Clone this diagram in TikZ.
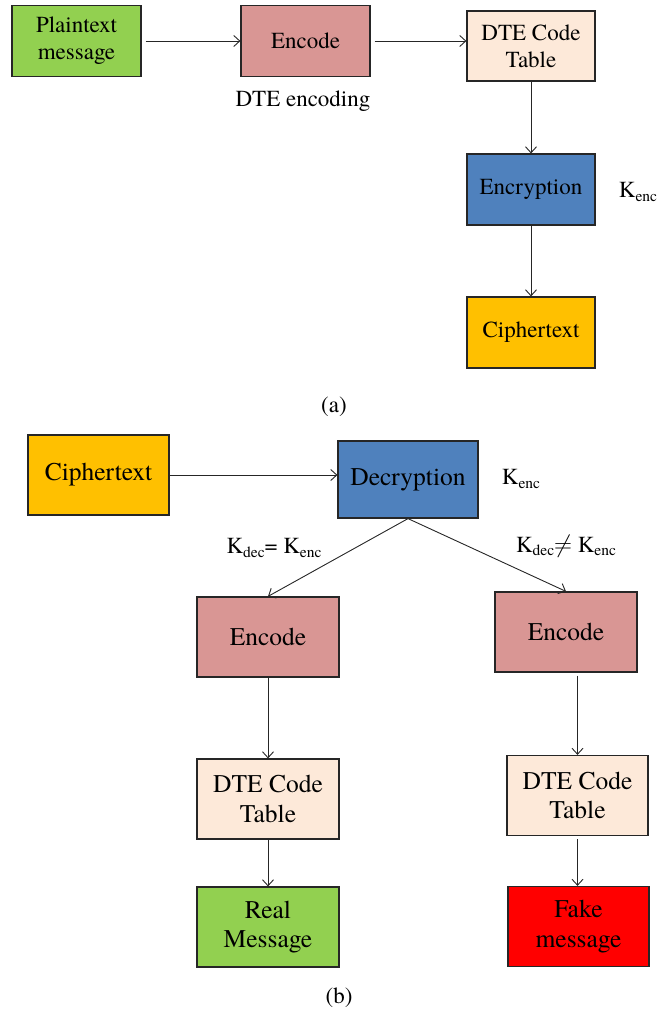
\documentclass[tikz,border=0pt]{standalone}
\usepackage{fontspec}
\setmainfont{texgyretermes}[Extension=.otf,UprightFont=*-regular,BoldFont=*-bold,ItalicFont=*-italic,BoldItalicFont=*-bolditalic]
\usetikzlibrary{arrows.meta,calc}
\definecolor{cgreen}{HTML}{92D050}
\definecolor{cpink}{HTML}{D99694}
\definecolor{cpeach}{HTML}{FDE9D9}
\definecolor{cblue}{HTML}{4F81BD}
\definecolor{cgold}{HTML}{FFC000}
\definecolor{cred}{HTML}{FF0000}
\newcommand{\sbs}[1]{\raisebox{-0.35ex}{\fontsize{15.5}{15.5}\selectfont #1}}
\begin{document}
\begin{tikzpicture}[x=1pt,y=-1pt,
  boxa/.style={draw=black!85,line width=1.2pt,minimum width=129pt,minimum height=71pt,align=center,inner sep=0pt,
     font=\fontsize{23}{27}\selectfont},
  boxb/.style={draw=black!85,line width=1.2pt,minimum width=141pt,minimum height=80pt,align=center,inner sep=0pt,
     font=\fontsize{25.5}{29.5}\selectfont},
  lbla/.style={font=\fontsize{23}{27}\selectfont,inner sep=0pt},
  arr/.style={draw=black!85,line width=0.9pt,-{Straight Barb[length=6pt,width=11pt,line width=0.9pt]}}
]
\useasboundingbox (0,0) rectangle (668,1012);
% (a)
\node[boxa,fill=cgreen] (plain) at (76.5,41) {Plaintext\\message};
\node[boxa,fill=cpink] (enc1) at (305.5,41) {Encode};
\node[boxa,fill=cpeach,minimum width=128pt,minimum height=70pt] (dte1) at (531,46) {DTE Code\\Table};
\node[boxa,fill=cblue,minimum width=128pt] (encr) at (531,189.5) {Encryption};
\node[boxa,fill=cgold,minimum width=128pt] (ciph1) at (531,332.5) {Ciphertext};
\node[lbla] (lenc) at (303,101) {DTE encoding};
\node[lbla] (k1) at (638,192) {K\sbs{enc}};
\node[lbla] (capa) at (334,407) {(a)};
\draw[arr,shorten <=4pt] (plain.east) -- (plain.east -| enc1.west);
\draw[arr,shorten <=4pt] (enc1.east) -- (enc1.east -| dte1.west);
\draw[arr] (dte1.south) -- (encr.north);
\draw[arr] (encr.south) -- (ciph1.north);
% (b)
\node[boxb,fill=cgold] (ciph2) at (98.5,475) {Ciphertext};
\node[boxb,fill=cblue,minimum width=140pt,minimum height=77pt] (decr) at (408,479.5) {Decryption};
\node[boxb,fill=cpink,minimum width=142pt] (enc2) at (268,637) {Encode};
\node[boxb,fill=cpink,minimum width=142pt] (enc3) at (566,632) {Encode};
\node[boxb,fill=cpeach,minimum width=142pt] (dte2) at (268,799) {DTE Code\\Table};
\node[boxb,fill=cpeach] (dte3) at (577.5,795.5) {DTE Code\\Table};
\node[boxb,fill=cgreen,minimum width=142pt] (real) at (268,927) {Real\\Message};
\node[boxb,fill=cred] (fake) at (578.5,926.5) {Fake\\message};
\node[lbla] (k2) at (521,479) {K\sbs{enc}};
\node[lbla] (keq) at (274,548) {K\sbs{dec}= K\sbs{enc}};
\node[lbla] (kne) at (566,546) {K\sbs{dec}$\neq$ K\sbs{enc}};
\node[lbla] (capb) at (339,998) {(b)};
\draw[arr] (ciph2.east) -- (ciph2.east -| decr.west);
\draw[arr] (decr.south) -- (enc2.north);
\draw[arr] (decr.south) -- (enc3.north);
\draw[arr] (enc2.south) -- (dte2.north);
\draw[arr] (dte2.south) -- (real.north);
\draw[arr,shorten <=3pt] (dte3.north |- enc3.south) -- (dte3.north);
\draw[arr,shorten <=3pt] (dte3.south) -- (dte3.south |- fake.north);
\end{tikzpicture}
\end{document}
